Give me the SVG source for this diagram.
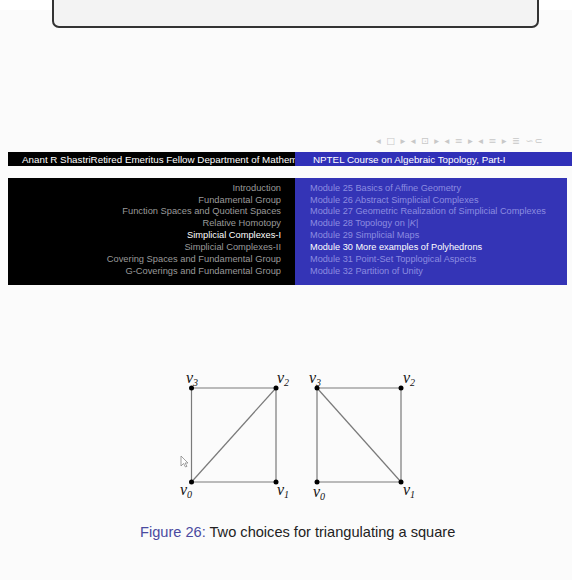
<svg xmlns="http://www.w3.org/2000/svg" width="572" height="580" viewBox="0 0 572 580">
<defs>
<style>
.menuL{font-family:"Liberation Sans","DejaVu Sans",sans-serif;font-size:9.3px;fill:#9a9a9a;text-anchor:end}
.menuR{font-family:"Liberation Sans","DejaVu Sans",sans-serif;font-size:9.2px;fill:#8c8ce0}
.cur{fill:#ffffff}
.hdr{font-family:"Liberation Sans","DejaVu Sans",sans-serif;font-size:9.8px;fill:#ffffff}
.edge{stroke:#7a7a7a;stroke-width:1.2;fill:none}
.dot{fill:#000}
.lab{font-family:"Liberation Serif","DejaVu Serif",serif;font-style:italic;font-size:16px;fill:#111}
.sub{font-size:10px}
</style>
<clipPath id="hclip"><rect x="8" y="152" width="287" height="14"/></clipPath>
</defs>
<rect x="0" y="0" width="572" height="580" fill="#fbfbfb"/>
<rect x="0" y="0" width="572" height="10" fill="#ffffff"/>
<g id="topbox">
<rect x="53" y="-20" width="485" height="47" rx="6" fill="#f3f3f3" stroke="#333" stroke-width="2"/>
</g>
<g id="header">
<text x="376" y="144" font-family="DejaVu Sans,sans-serif" font-size="9.5" fill="#c8c8c8" letter-spacing="1.2">◂ □ ▸ ◂ ⊡ ▸ ◂ ≡ ▸ ◂ ≡ ▸  ≣  ∽⊂</text>
<rect x="8" y="152" width="287" height="14" fill="#000"/>
<rect x="295" y="152" width="277" height="14" fill="#3030b8"/>
<text class="hdr" x="22" y="162.5" clip-path="url(#hclip)">Anant R ShastriRetired Emeritus Fellow Department of Mathematics</text>
<text class="hdr" x="313" y="162.5">NPTEL Course on Algebraic Topology, Part-I</text>
</g>
<g id="menu">
<rect x="8" y="178" width="287" height="107" fill="#000"/>
<rect x="295" y="178" width="272" height="107" fill="#3434b6"/>
<text class="menuL" x="281" y="191">Introduction</text>
<text class="menuL" x="281" y="203">Fundamental Group</text>
<text class="menuL" x="281" y="214">Function Spaces and Quotient Spaces</text>
<text class="menuL" x="281" y="226">Relative Homotopy</text>
<text class="menuL cur" x="281" y="238">Simplicial Complexes-I</text>
<text class="menuL" x="281" y="250">Simplicial Complexes-II</text>
<text class="menuL" x="281" y="262">Covering Spaces and Fundamental Group</text>
<text class="menuL" x="281" y="274">G-Coverings and Fundamental Group</text>
<text class="menuR" x="310" y="191">Module 25 Basics of Affine Geometry</text>
<text class="menuR" x="310" y="203">Module 26 Abstract Simplicial Complexes</text>
<text class="menuR" x="310" y="214">Module 27 Geometric Realization of Simplicial Complexes</text>
<text class="menuR" x="310" y="226">Module 28 Topology on |<tspan font-style="italic">K</tspan>|</text>
<text class="menuR" x="310" y="238">Module 29 Simplicial Maps</text>
<text class="menuR cur" x="310" y="250">Module 30 More examples of Polyhedrons</text>
<text class="menuR" x="310" y="262">Module 31 Point-Set Topplogical Aspects</text>
<text class="menuR" x="310" y="274">Module 32 Partition of Unity</text>
</g>
<g id="connectors">
<line class="edge" x1="191.5" y1="388" x2="276" y2="388"/>
<line class="edge" x1="276" y1="388" x2="276" y2="482"/>
<line class="edge" x1="191.5" y1="482" x2="276" y2="482"/>
<line class="edge" x1="191.5" y1="388" x2="191.5" y2="482"/>
<line class="edge" x1="191.5" y1="482" x2="276" y2="388"/>
<line class="edge" x1="317" y1="388" x2="401" y2="388"/>
<line class="edge" x1="401" y1="388" x2="401" y2="482"/>
<line class="edge" x1="317" y1="482" x2="401" y2="482"/>
<line class="edge" x1="317" y1="388" x2="317" y2="482"/>
<line class="edge" x1="317" y1="388" x2="401" y2="482"/>
</g>
<g id="L-v3"><circle class="dot" cx="191.5" cy="388" r="2.5"/><text class="lab" x="186" y="383">v<tspan class="sub" dy="3">3</tspan></text></g>
<g id="L-v2"><circle class="dot" cx="276" cy="388" r="2.5"/><text class="lab" x="277" y="383">v<tspan class="sub" dy="3">2</tspan></text></g>
<g id="L-v0"><circle class="dot" cx="191.5" cy="482" r="2.5"/><text class="lab" x="180" y="495">v<tspan class="sub" dy="3">0</tspan></text></g>
<g id="L-v1"><circle class="dot" cx="276" cy="482" r="2.5"/><text class="lab" x="277" y="495">v<tspan class="sub" dy="3">1</tspan></text></g>
<g id="R-v3"><circle class="dot" cx="317" cy="388" r="2.5"/><text class="lab" x="309" y="383">v<tspan class="sub" dy="3">3</tspan></text></g>
<g id="R-v2"><circle class="dot" cx="401" cy="388" r="2.5"/><text class="lab" x="403" y="383">v<tspan class="sub" dy="3">2</tspan></text></g>
<g id="R-v0"><circle class="dot" cx="317" cy="482" r="2.5"/><text class="lab" x="313" y="497">v<tspan class="sub" dy="3">0</tspan></text></g>
<g id="R-v1"><circle class="dot" cx="401" cy="482" r="2.5"/><text class="lab" x="403" y="495">v<tspan class="sub" dy="3">1</tspan></text></g>
<g id="cursor">
<path d="M181 456 L181 466 L183.5 463.5 L185.5 467 L187 466.3 L185 463 L188 463 Z" fill="#fff" stroke="#888" stroke-width="0.8"/>
</g>
<g id="caption">
<text x="140" y="537" font-family="Liberation Sans,DejaVu Sans,sans-serif" font-size="14.6" fill="#222"><tspan fill="#4a4aa0">Figure 26:</tspan> Two choices for triangulating a square</text>
</g>
</svg>
